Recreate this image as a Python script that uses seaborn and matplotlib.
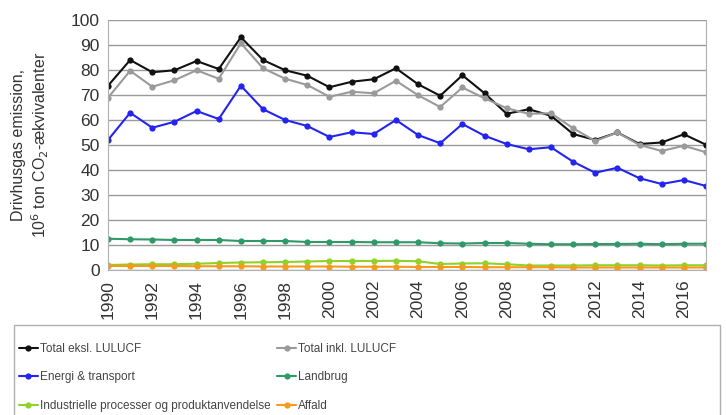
import numpy as np
import pandas as pd
import matplotlib
matplotlib.use("Agg")
import matplotlib.pyplot as plt
from matplotlib.patches import Rectangle
import seaborn as sns

years = list(range(1990, 2018))

total_eksl = [73.7, 84.0, 79.1, 79.9, 83.6, 80.4, 93.1, 84.0, 79.9, 77.7,
              73.1, 75.3, 76.3, 80.7, 74.3, 69.7, 77.9, 70.7, 62.5, 64.3,
              61.7, 54.4, 52.0, 55.0, 50.4, 51.0, 54.3, 50.1]
total_inkl = [68.9, 79.7, 73.3, 75.9, 79.9, 76.5, 90.7, 80.7, 76.5, 74.0,
              69.3, 71.3, 70.7, 75.7, 69.9, 65.2, 73.0, 68.7, 64.7, 62.5,
              62.7, 56.7, 51.6, 55.0, 50.0, 47.6, 49.7, 47.1]
energi = [52.0, 62.9, 56.9, 59.3, 63.6, 60.4, 73.7, 64.3, 60.0, 57.6,
          53.2, 55.1, 54.4, 60.0, 54.0, 50.7, 58.4, 53.7, 50.4, 48.3,
          49.1, 43.3, 38.9, 40.9, 36.7, 34.4, 36.0, 33.6]
landbrug = [12.5, 12.3, 12.2, 12.0, 12.0, 12.0, 11.6, 11.6, 11.6, 11.2,
            11.2, 11.2, 11.1, 11.1, 11.1, 10.7, 10.6, 10.8, 10.8, 10.5,
            10.3, 10.3, 10.4, 10.4, 10.5, 10.3, 10.5, 10.5]
industri = [2.0, 2.2, 2.3, 2.3, 2.5, 2.8, 3.0, 3.1, 3.2, 3.4,
            3.6, 3.6, 3.6, 3.7, 3.5, 2.4, 2.6, 2.7, 2.3, 1.8,
            1.8, 1.8, 1.9, 1.9, 1.9, 1.8, 1.9, 1.9]
affald = [1.6, 1.6, 1.6, 1.6, 1.5, 1.5, 1.5, 1.4, 1.4, 1.4,
          1.4, 1.3, 1.3, 1.3, 1.2, 1.2, 1.2, 1.1, 1.1, 1.1,
          1.1, 1.0, 1.0, 1.0, 1.0, 1.0, 1.0, 1.0]

labels = ["Total eksl. LULUCF", "Total inkl. LULUCF", "Energi & transport",
          "Landbrug", "Industrielle processer og produktanvendelse", "Affald"]
colors = ["#111111", "#9a9a9a", "#2424f0", "#2e9a68", "#8fd22a", "#f59a1a"]

series = [total_eksl, total_inkl, energi, landbrug, industri, affald]
df = pd.concat([pd.DataFrame({"year": years, "value": s, "serie": lab})
                for s, lab in zip(series, labels)], ignore_index=True)

sns.set_style("white")
plt.rcParams["font.family"] = ["Liberation Sans", "DejaVu Sans"]

fig = plt.figure(figsize=(7.26, 4.15), dpi=100)
ax = fig.add_axes([108 / 726, 1 - 270 / 415, (706 - 108) / 726, 250 / 415])

for lab, col in zip(labels, colors):
    sub = df[df["serie"] == lab]
    sns.lineplot(data=sub, x="year", y="value", ax=ax, color=col,
                 marker="o", markersize=4.5, markeredgewidth=0,
                 linewidth=1.5, label=lab, legend=False)

ax.set_xlim(1990, 2017)
ax.set_ylim(0, 100)
ax.set_yticks(range(0, 101, 10))
ax.set_xticks(years)
ax.set_xticklabels([str(y) if (y % 2 == 0) else "" for y in years],
                   rotation=90)
ax.tick_params(axis="both", labelsize=12.5, colors="#333333")
ax.tick_params(axis="x", length=5, color="#999999", width=1, pad=2)
ax.tick_params(axis="y", length=4, color="#999999", pad=2)
ax.grid(axis="y", color="#9a9a9a", linewidth=1)
ax.set_axisbelow(True)
for side in ["left", "bottom", "right"]:
    ax.spines[side].set_color("#b0b0b0")
ax.spines["top"].set_visible(False)
ax.set_xlabel("")
ax.set_ylabel("Drivhusgas emission,\n10$^6$ ton CO$_2$-ækvivalenter",
              fontsize=11.5, color="#333333", labelpad=14)

# legend box
fig.patches.append(Rectangle((14 / 726, -0.05), (720 - 14) / 726,
                             1 - 325 / 415 + 0.05, transform=fig.transFigure,
                             facecolor="white", edgecolor="#b0b0b0",
                             linewidth=1))
handles, hl = ax.get_legend_handles_labels()
order = [0, 2, 4, 1, 3, 5]
leg = fig.legend([handles[i] for i in order], [hl[i] for i in order],
                 ncol=2, frameon=False, fontsize=8.5,
                 loc="upper left", bbox_to_anchor=(14 / 726, 1 - 338 / 415),
                 handlelength=1.6, handletextpad=0.2, labelspacing=1.4,
                 columnspacing=0.55, borderaxespad=0)
for t in leg.get_texts():
    t.set_color("#444444")

fig.savefig("out.png", dpi=100)
